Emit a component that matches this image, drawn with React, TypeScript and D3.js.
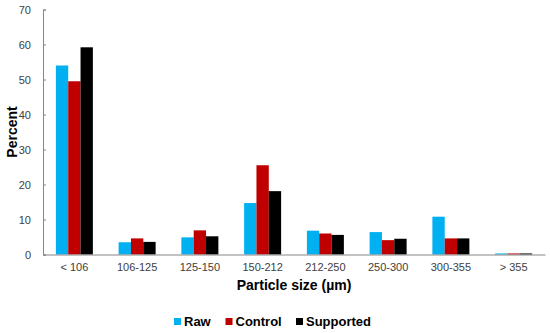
import { useEffect, useRef } from 'react';
import * as d3 from 'd3';

const categories = ['< 106', '106-125', '125-150', '150-212', '212-250', '250-300', '300-355', '> 355'];
const rawValues = [54, 3.5, 4.9, 14.7, 6.8, 6.4, 10.8, 0.3];
const controlValues = [49.5, 4.6, 6.9, 25.5, 6.0, 4.1, 4.6, 0.3];
const supportedValues = [59.2, 3.6, 5.2, 18.1, 5.6, 4.5, 4.6, 0.3];
const seriesNames = ['Raw', 'Control', 'Supported'];
const seriesColors = ['#00b0f0', '#c00000', '#000000'];
const yTicks = [0, 10, 20, 30, 40, 50, 60, 70];

export default function App() {
  const ref = useRef<SVGSVGElement>(null);

  useEffect(() => {
    if (!ref.current) return;
    const svg = d3.select(ref.current);
    svg.selectAll('*').remove();

    const margin = { top: 9.5, left: 43, right: 5, bottom: 78.5 };
    const width = 550 - margin.left - margin.right;
    const height = 333 - margin.top - margin.bottom;
    const font = 'Liberation Sans, Arial, sans-serif';

    const g = svg.append('g').attr('transform', `translate(${margin.left},${margin.top})`);

    const x = d3.scaleBand().domain(categories).range([0, width]);
    const x1 = d3.scaleBand().domain(seriesNames).range([0, 37]);
    const y = d3.scaleLinear().domain([0, 70]).range([height, 0]);

    const series = [rawValues, controlValues, supportedValues];
    series.forEach((vals, si) => {
      g.selectAll(`.bar${si}`)
        .data(vals)
        .enter()
        .append('rect')
        .attr('x', (_, i) => (x(categories[i]) as number) + x.bandwidth() / 2 - 18.5 + (x1(seriesNames[si]) as number))
        .attr('y', d => y(d))
        .attr('width', x1.bandwidth())
        .attr('height', d => height - y(d))
        .attr('fill', seriesColors[si]);
    });

    // y axis
    const yAxis = g.append('g').call(
      d3.axisLeft(y).tickValues(yTicks).tickSize(-3).tickPadding(12)
    );
    yAxis.select('.domain').attr('stroke', '#868686');
    yAxis.selectAll('line').attr('stroke', '#868686');
    yAxis.selectAll('text').attr('font-family', font).attr('font-size', 11).attr('fill', '#404040');

    // x axis
    const xAxis = g.append('g').attr('transform', `translate(0,${height})`).call(
      d3.axisBottom(x).tickSize(0).tickPadding(9)
    );
    xAxis.select('.domain').attr('stroke', '#868686');
    xAxis.selectAll('text').attr('font-family', font).attr('font-size', 11).attr('fill', '#404040');

    // titles
    svg.append('text')
      .attr('transform', `translate(17,${margin.top + height / 2}) rotate(-90)`)
      .attr('text-anchor', 'middle')
      .attr('font-family', font)
      .attr('font-weight', 'bold')
      .attr('font-size', 14)
      .attr('fill', '#000')
      .text('Percent');

    svg.append('text')
      .attr('x', margin.left + width / 2)
      .attr('y', 290)
      .attr('text-anchor', 'middle')
      .attr('font-family', font)
      .attr('font-weight', 'bold')
      .attr('font-size', 14)
      .attr('fill', '#000')
      .text('Particle size (µm)');

    // legend
    const legendX = [174, 225.5, 296];
    const legend = svg.append('g');
    seriesNames.forEach((name, i) => {
      legend.append('rect')
        .attr('x', legendX[i])
        .attr('y', 318)
        .attr('width', 7)
        .attr('height', 7)
        .attr('fill', seriesColors[i]);
      legend.append('text')
        .attr('x', legendX[i] + 10)
        .attr('y', 326)
        .attr('font-family', font)
        .attr('font-weight', 'bold')
        .attr('font-size', 13)
        .attr('fill', '#000')
        .text(name);
    });
  }, []);

  return (
    <div style={{ position: 'absolute', left: 0, top: 0 }}>
      <svg ref={ref} width={550} height={333} style={{ display: 'block', background: '#fff' }} />
    </div>
  );
}
